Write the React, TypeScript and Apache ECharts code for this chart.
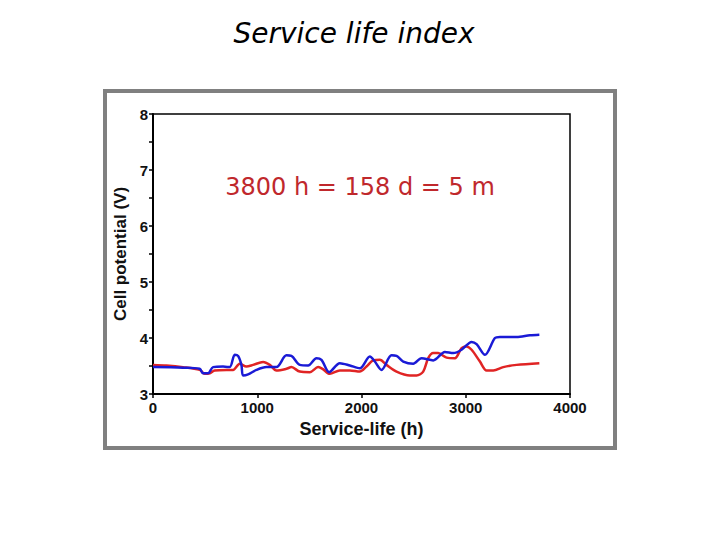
import React, { useEffect, useRef } from "react";
import * as echarts from "echarts";

const hoursBlue = [0, 288, 448, 480, 528, 576, 672, 736, 784, 816, 848, 864, 912, 992, 1088, 1184, 1280, 1328, 1408, 1488, 1568, 1616, 1690, 1792, 1888, 1984, 2080, 2128, 2192, 2288, 2336, 2400, 2496, 2576, 2688, 2800, 2880, 2960, 3056, 3104, 3184, 3280, 3328, 3488, 3616, 3706];
const voltsBlue = [3.48, 3.47, 3.45, 3.37, 3.37, 3.48, 3.49, 3.48, 3.70, 3.68, 3.52, 3.33, 3.35, 3.43, 3.48, 3.48, 3.69, 3.68, 3.52, 3.51, 3.64, 3.61, 3.39, 3.55, 3.51, 3.46, 3.67, 3.58, 3.43, 3.69, 3.68, 3.58, 3.54, 3.64, 3.60, 3.75, 3.73, 3.79, 3.93, 3.89, 3.70, 4.00, 4.02, 4.02, 4.05, 4.06];

const hoursRed = [0, 128, 288, 448, 496, 544, 592, 704, 768, 832, 896, 960, 1056, 1120, 1184, 1280, 1328, 1408, 1504, 1584, 1626, 1696, 1792, 1888, 1984, 2048, 2112, 2176, 2240, 2336, 2464, 2528, 2592, 2640, 2688, 2736, 2816, 2896, 2960, 3008, 3056, 3136, 3200, 3264, 3360, 3488, 3706];
const voltsRed = [3.52, 3.51, 3.48, 3.43, 3.36, 3.37, 3.42, 3.43, 3.43, 3.54, 3.49, 3.52, 3.57, 3.52, 3.42, 3.45, 3.48, 3.40, 3.39, 3.48, 3.45, 3.36, 3.42, 3.42, 3.40, 3.49, 3.60, 3.61, 3.52, 3.40, 3.33, 3.33, 3.40, 3.64, 3.73, 3.73, 3.65, 3.64, 3.82, 3.85, 3.79, 3.58, 3.42, 3.42, 3.48, 3.52, 3.55];

const titleText = "Service life index";
const noteText = "3800 h = 158 d = 5 m";
const xName = "Service-life (h)";
const yName = "Cell potential (V)";

function pairs(xs: number[], ys: number[]) {
  return xs.map((x, i) => [x, ys[i]]);
}

export default function App() {
  const ref = useRef<HTMLDivElement>(null);
  useEffect(() => {
    if (!ref.current) return;
    const chart = echarts.init(ref.current, null, { renderer: "svg" });
    const axisLabel = {
      color: "#111",
      fontFamily: "Liberation Sans",
      fontWeight: "bold" as const,
      fontSize: 15,
      formatter: (v: number) => String(v),
    };
    const nameStyle = {
      color: "#111",
      fontFamily: "Liberation Sans",
      fontWeight: "bold" as const,
      fontSize: 18,
    };
    chart.setOption({
      animation: false,
      backgroundColor: "#ffffff",
      graphic: [
        {
          type: "rect",
          shape: { x: 105, y: 91, width: 510, height: 357 },
          style: { fill: "none", stroke: "#808080", lineWidth: 4 },
          silent: true,
        },
        {
          type: "text",
          x: 354,
          y: 33,
          style: {
            text: titleText,
            fontFamily: "DejaVu Sans",
            fontStyle: "italic",
            fontSize: 28,
            fill: "#000",
            align: "center",
            verticalAlign: "middle",
          },
        },
        {
          type: "text",
          x: 360,
          y: 187,
          z: 10,
          style: {
            text: noteText,
            fontFamily: "DejaVu Sans",
            fontSize: 24,
            fill: "#c0282c",
            align: "center",
            verticalAlign: "middle",
          },
        },
      ],
      grid: {
        left: 153,
        top: 114,
        width: 417,
        height: 280,
        show: true,
        borderColor: "#000",
        borderWidth: 1.5,
        backgroundColor: "transparent",
      },
      xAxis: {
        type: "value",
        min: 0,
        max: 4000,
        interval: 1000,
        name: xName,
        nameLocation: "middle",
        nameGap: 26,
        nameTextStyle: nameStyle,
        axisLine: { show: true, lineStyle: { color: "#000", width: 2 } },
        axisTick: { show: true, length: 4, lineStyle: { color: "#000", width: 1.5 } },
        axisLabel: { ...axisLabel, margin: 6 },
        splitLine: { show: false },
      },
      yAxis: {
        type: "value",
        min: 3,
        max: 8,
        interval: 1,
        name: yName,
        nameLocation: "middle",
        nameGap: 23,
        nameTextStyle: { ...nameStyle, fontSize: 17 },
        axisLine: { show: true, lineStyle: { color: "#000", width: 2 } },
        axisTick: { show: true, length: 4, lineStyle: { color: "#000", width: 1.5 } },
        minorTick: { show: true, splitNumber: 2, length: 4, lineStyle: { color: "#000", width: 1.5 } },
        axisLabel: { ...axisLabel, margin: 5 },
        splitLine: { show: false },
      },
      series: [
        {
          type: "line",
          data: pairs(hoursRed, voltsRed),
          smooth: 0.3,
          symbol: "none",
          lineStyle: { color: "#e02424", width: 2.5 },
          z: 3,
        },
        {
          type: "line",
          data: pairs(hoursBlue, voltsBlue),
          smooth: 0.3,
          symbol: "none",
          lineStyle: { color: "#1a1ad6", width: 2.5 },
          z: 4,
        },
      ],
    });
    return () => chart.dispose();
  }, []);
  return (
    <div
      ref={ref}
      style={{ position: "absolute", left: 0, top: 0, width: 720, height: 540 }}
    />
  );
}
